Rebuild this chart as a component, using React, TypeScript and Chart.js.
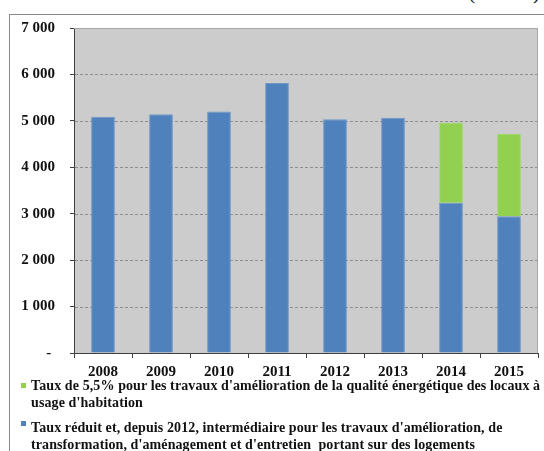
import React, { useEffect, useRef } from "react";
import { Chart, registerables } from "chart.js";

Chart.register(...registerables);

const years = ["2008", "2009", "2010", "2011", "2012", "2013", "2014", "2015"];
const blueValues = [5090, 5145, 5200, 5815, 5035, 5065, 3235, 2945];
const greenValues = [null, null, null, null, null, null, 1728, 1770];
const yTickValues = [0, 1000, 2000, 3000, 4000, 5000, 6000, 7000];
const unitLabel = "(En M€)";
const legendGreen = [
  "Taux de 5,5% pour les travaux d'amélioration de la qualité énergétique des locaux à",
  "usage d'habitation",
];
const legendBlue = [
  "Taux réduit et, depuis 2012, intermédiaire pour les travaux d'amélioration, de",
  "transformation, d'aménagement et d'entretien  portant sur des logements",
];

const BLUE = "#4f81bd";
const GREEN = "#92d050";
const FONT = "'Liberation Serif', serif";

const formatTick = (v: number) => {
  if (v === 0) return "- ";
  const s = String(v);
  return s.slice(0, s.length - 3) + " " + s.slice(s.length - 3);
};

const plotPlugin = {
  id: "plotDecor",
  beforeDraw(chart: any) {
    const { ctx, chartArea: a } = chart;
    ctx.save();
    ctx.fillStyle = "#cccccc";
    ctx.fillRect(a.left, a.top, a.right - a.left, a.bottom - a.top);
    ctx.restore();
  },
  beforeDatasetsDraw(chart: any) {
    const { ctx, chartArea: a, scales } = chart;
    ctx.save();
    ctx.lineWidth = 1;
    ctx.strokeStyle = "#8e8e8e";
    ctx.setLineDash([3, 2]);
    yTickValues.forEach((v) => {
      if (v <= 0 || v >= 7000) return;
      const y = Math.round(scales.y.getPixelForValue(v)) + 0.5;
      ctx.beginPath();
      ctx.moveTo(a.left + 1, y);
      ctx.lineTo(a.right, y);
      ctx.stroke();
    });
    ctx.setLineDash([]);
    ctx.strokeStyle = "#a6a6a6";
    ctx.beginPath();
    const t = Math.round(a.top) + 0.5;
    const r = Math.round(a.right) - 0.5;
    ctx.moveTo(a.left, t);
    ctx.lineTo(r, t);
    ctx.lineTo(r, a.bottom);
    ctx.stroke();
    ctx.restore();
  },
};

export default function App() {
  const ref = useRef<HTMLCanvasElement | null>(null);

  useEffect(() => {
    document.body.style.margin = "0";
    if (!ref.current) return;
    const chart = new Chart(ref.current, {
      type: "bar",
      data: {
        labels: years,
        datasets: [
          {
            label: legendBlue.join(" "),
            data: blueValues,
            backgroundColor: BLUE,
            borderColor: "#6f98c9",
            borderWidth: 1,
            barPercentage: 0.41,
            categoryPercentage: 1,
          },
          {
            label: legendGreen.join(" "),
            data: greenValues,
            backgroundColor: GREEN,
            borderColor: "#a3d86c",
            borderWidth: 1,
            barPercentage: 0.41,
            categoryPercentage: 1,
          },
        ],
      },
      options: {
        responsive: false,
        animation: false,
        devicePixelRatio: 1,
        layout: { padding: { left: 0, right: 6, top: 28, bottom: 0 } },
        plugins: { legend: { display: false }, tooltip: { enabled: false } },
        scales: {
          x: {
            stacked: true,
            afterFit: (s: any) => {
              s.height = 27;
            },
            grid: {
              offset: true,
              drawOnChartArea: false,
              drawTicks: true,
              tickLength: 5,
              tickColor: "#404040",
            },
            border: { display: true, color: "#404040", width: 1 },
            ticks: {
              color: "#111111",
              padding: 5,
              font: { family: FONT, size: 15, weight: "bold" },
            },
          },
          y: {
            stacked: true,
            min: 0,
            max: 7000,
            afterFit: (s: any) => {
              s.width = 74;
            },
            afterBuildTicks: (s: any) => {
              s.ticks = yTickValues.map((v) => ({ value: v }));
            },
            grid: {
              drawOnChartArea: false,
              drawTicks: true,
              tickLength: 4,
              tickColor: "#404040",
            },
            border: { display: true, color: "#404040", width: 1 },
            ticks: {
              color: "#111111",
              padding: 15,
              font: { family: FONT, size: 15, weight: "bold" },
              callback: (v: any) => formatTick(Number(v)),
            },
          },
        },
      },
      plugins: [plotPlugin],
    });
    return () => chart.destroy();
  }, []);

  const legendText: React.CSSProperties = {
    position: "absolute",
    left: 31,
    fontFamily: FONT,
    fontWeight: "bold",
    fontSize: 14,
    lineHeight: "16.5px",
    letterSpacing: "0.1px",
    color: "#111111",
    whiteSpace: "pre",
  };
  const square = (color: string, top: number): React.CSSProperties => ({
    position: "absolute",
    left: 21,
    top,
    width: 5,
    height: 5,
    background: color,
  });

  return (
    <div
      style={{
        position: "relative",
        width: 544,
        height: 451,
        overflow: "hidden",
        background: "#ffffff",
      }}
    >
      <div
        style={{
          position: "absolute",
          left: 9,
          top: 14,
          width: 700,
          height: 600,
          borderLeft: "1px solid #8a8a8a",
          borderTop: "1px solid #8a8a8a",
        }}
      />
      <div
        style={{
          position: "absolute",
          right: 4,
          top: -18,
          fontFamily: FONT,
          fontSize: 21,
          lineHeight: "21px",
          color: "#111111",
          whiteSpace: "pre",
        }}
      >
        {unitLabel}
      </div>
      <canvas
        ref={ref}
        width={544}
        height={380}
        style={{ position: "absolute", left: 0, top: 0, width: 544, height: 380 }}
      />
      <div style={square(GREEN, 383)} />
      <div style={{ ...legendText, top: 378 }}>
        {legendGreen[0]}
        {"\n"}
        {legendGreen[1]}
      </div>
      <div style={square(BLUE, 421)} />
      <div style={{ ...legendText, top: 420 }}>
        {legendBlue[0]}
        {"\n"}
        {legendBlue[1]}
      </div>
    </div>
  );
}
